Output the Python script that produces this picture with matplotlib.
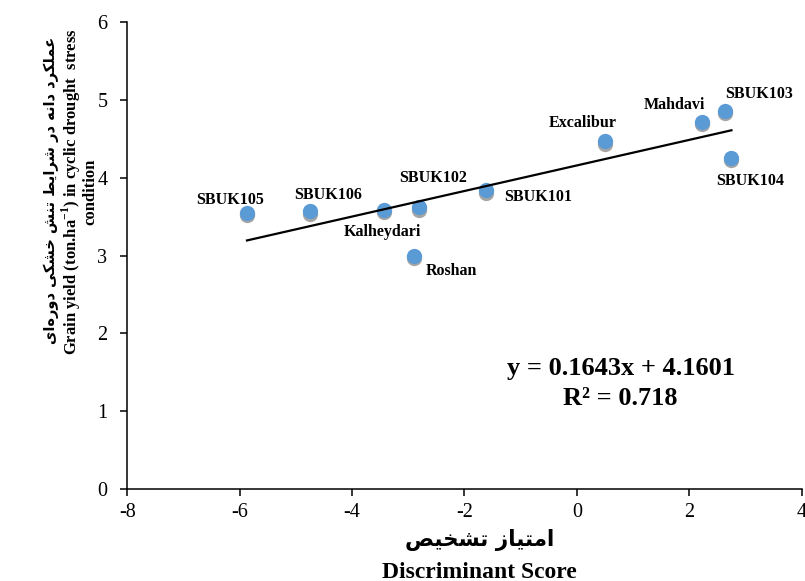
import numpy as np
import matplotlib
matplotlib.use('Agg')
import matplotlib.pyplot as plt
from matplotlib import transforms

plt.rcParams['font.family'] = ['Liberation Serif']
plt.rcParams['axes.unicode_minus'] = False
plt.rcParams['mathtext.fontset'] = 'custom'
plt.rcParams['mathtext.rm'] = 'Liberation Serif'
plt.rcParams['mathtext.bf'] = 'Liberation Serif:bold'

# genotypes: discriminant score vs grain yield
names = ['SBUK105', 'SBUK106', 'Kalheydari', 'SBUK102', 'Roshan',
         'SBUK101', 'Excalibur', 'Mahdavi', 'SBUK103', 'SBUK104']
score = [-5.87, -4.75, -3.43, -2.81, -2.89, -1.62, 0.50, 2.23, 2.64, 2.75]
grain_yield = [3.55, 3.57, 3.59, 3.62, 3.00, 3.84, 4.47, 4.72, 4.86, 4.26]
slope = 0.1643
intercept = 4.1601
r2 = 0.718

xlabel_fa = 'امتیاز تشخیص'
xlabel_en = 'Discriminant Score'
ylabel_fa = 'عملکرد دانه در شرایط تنش خشکی دوره\u200cای'
ylabel_en = 'Grain yield (ton.ha$^{\\mathbf{-1}}$) in cyclic drought  stress\ncondition'

# label offsets in points (dx, dy)
label_offsets = {
    'SBUK105': (-12, 9.5), 'SBUK106': (13, 11.5), 'Kalheydari': (-1.5, -16),
    'SBUK102': (10, 21), 'Roshan': (26.5, -11), 'SBUK101': (37.5, -4.5),
    'Excalibur': (-16, 13), 'Mahdavi': (-20, 12), 'SBUK103': (24, 12),
    'SBUK104': (13.5, -16.5),
}

# matplotlib has no arabic shaping, so pick presentation forms by hand
FORMS = {
    'ا': '\uFE8D\uFE8E', 'د': '\uFEA9\uFEAA', 'ر': '\uFEAD\uFEAE',
    'ز': '\uFEAF\uFEB0', 'و': '\uFEED\uFEEE',
    'ت': '\uFE95\uFE96\uFE97\uFE98', 'خ': '\uFEA5\uFEA6\uFEA7\uFEA8',
    'ش': '\uFEB5\uFEB6\uFEB7\uFEB8', 'ص': '\uFEB9\uFEBA\uFEBB\uFEBC',
    'ط': '\uFEC1\uFEC2\uFEC3\uFEC4', 'ع': '\uFEC9\uFECA\uFECB\uFECC',
    'ل': '\uFEDD\uFEDE\uFEDF\uFEE0', 'م': '\uFEE1\uFEE2\uFEE3\uFEE4',
    'ن': '\uFEE5\uFEE6\uFEE7\uFEE8', 'ه': '\uFEE9\uFEEA\uFEEB\uFEEC',
    'ک': '\uFB8E\uFB8F\uFB90\uFB91', 'ی': '\uFBFC\uFBFD\uFBFE\uFBFF',
}


def shape_fa(s):
    out = []
    for i, ch in enumerate(s):
        if ch not in FORMS:
            if ch != '\u200c':
                out.append(ch)
            continue
        prev = s[i - 1] if i > 0 else ''
        nxt = s[i + 1] if i + 1 < len(s) else ''
        join_prev = prev in FORMS and len(FORMS[prev]) == 4
        join_next = len(FORMS[ch]) == 4 and nxt in FORMS
        f = FORMS[ch]
        if join_prev and join_next:
            out.append(f[3])
        elif join_prev:
            out.append(f[1])
        elif join_next:
            out.append(f[2])
        else:
            out.append(f[0])
    return ''.join(out)[::-1]


fig = plt.figure(figsize=(8.05, 5.81), dpi=100)
ax = fig.add_axes([0.1581, 0.1583, 0.8378, 0.8033])

x = np.array(score)
y = np.array(grain_yield)

shadow = transforms.offset_copy(ax.transData, fig=fig, x=0, y=-2.5, units='dots')
ax.plot(x, y, 'o', ms=11, color='#A5A5A5', mec='none', transform=shadow, zorder=2)
ax.plot(x, y, 'o', ms=11, color='#5B9BD5', mec='none', zorder=3)

xl = np.array([x.min(), x.max()])
ax.plot(xl, slope * xl + intercept, color='black', lw=1.6, zorder=4)

for n, xi, yi in zip(names, score, grain_yield):
    ax.annotate(n, (xi, yi), xytext=label_offsets[n], textcoords='offset points',
                ha='center', va='center', fontsize=11.5, fontweight='bold')

ax.set_xlim(-8, 4)
ax.set_ylim(0, 6)
ax.set_xticks(np.arange(-8, 5, 2))
ax.set_yticks(np.arange(0, 7, 1))
ax.spines['top'].set_visible(False)
ax.spines['right'].set_visible(False)
for s in ['left', 'bottom']:
    ax.spines[s].set_linewidth(1.1)
ax.tick_params(axis='both', direction='out', length=5.3, width=1.1, labelsize=14.5)
ax.tick_params(axis='y', pad=9)
ax.tick_params(axis='x', pad=5)

fig.text(0.771, 1 - 375 / 581, 'y = %.4fx + %.4f' % (slope, intercept),
         ha='center', va='baseline', fontsize=19, fontweight='bold')
fig.text(0.771, 1 - 405 / 581, 'R² = %.3f' % r2,
         ha='center', va='baseline', fontsize=19, fontweight='bold')

fig.text(0.596, 1 - 540 / 581, shape_fa(xlabel_fa), ha='center', va='center',
         fontsize=15.5, fontweight='bold', family=['DejaVu Sans'])
fig.text(0.596, 1 - 572 / 581, xlabel_en, ha='center', va='center',
         fontsize=17, fontweight='bold')

fig.text(51 / 805, 1 - 190 / 581, shape_fa(ylabel_fa), rotation=90, ha='center',
         va='center', fontsize=10.5, fontweight='bold', family=['DejaVu Sans'])
fig.text(79 / 805, 1 - 192 / 581, ylabel_en, rotation=90, ha='center', va='center',
         multialignment='center', fontsize=12, fontweight='bold', linespacing=1.0)

fig.savefig('out.png', dpi=100)
